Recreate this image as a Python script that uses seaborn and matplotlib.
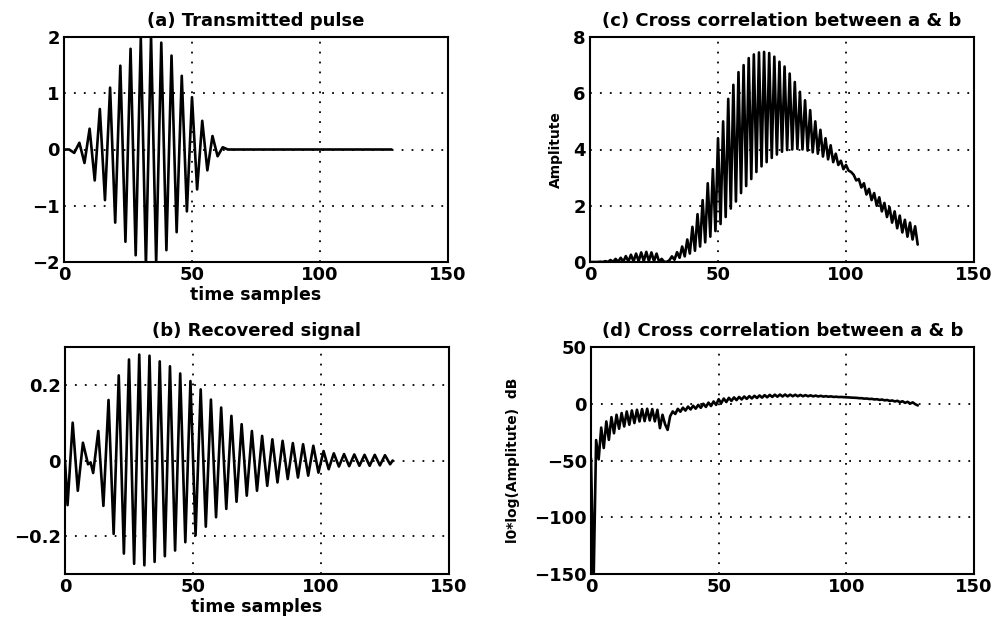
import numpy as np
import pandas as pd
import matplotlib
matplotlib.use("Agg")
import matplotlib.pyplot as plt
import seaborn as sns

# ---------------- data ----------------
# (a) transmitted pulse: turning points
a_x = [0, 2, 4, 6, 8, 10, 12, 14, 16, 18, 20, 22, 24, 26, 28, 30, 32, 34, 36, 38,
       40, 42, 44, 46, 48, 50, 52, 54, 56, 58, 60, 62, 64, 128]
a_y = [0, 0, -0.06, 0.12, -0.24, 0.37, -0.55, 0.72, -0.9, 1.1, -1.3, 1.49, -1.64, 1.79,
       -1.88, 1.98, -2.06, 2.02, -2.02, 1.9, -1.79, 1.67, -1.47, 1.31, -1.1, 0.93,
       -0.71, 0.51, -0.37, 0.24, -0.12, 0.04, 0, 0]

# (b) recovered signal: turning points
b_x = [0, 1, 3, 5, 7, 9, 10, 11, 13, 15, 17, 19, 21, 23, 25, 27, 29, 31, 33, 35, 37,
       39, 41, 43, 45, 47, 49, 51, 53, 55, 57, 59, 61, 63, 65, 67, 69, 71, 73, 75,
       77, 79, 81, 83, 85, 87, 89, 91, 93, 95, 97, 99, 101, 103, 105, 107, 109, 111,
       113, 115, 117, 119, 121, 123, 125, 127, 128]
b_y = [0, -0.118, 0.1, -0.08, 0.047, -0.01, -0.005, -0.033, 0.078, -0.12, 0.16,
       -0.194, 0.225, -0.246, 0.267, -0.273, 0.28, -0.277, 0.277, -0.268, 0.262,
       -0.253, 0.249, -0.238, 0.23, -0.216, 0.21, -0.198, 0.188, -0.175, 0.161,
       -0.15, 0.14, -0.128, 0.118, -0.109, 0.096, -0.093, 0.078, -0.08, 0.065,
       -0.067, 0.056, -0.058, 0.052, -0.049, 0.046, -0.045, 0.043, -0.04, 0.039,
       -0.032, 0.025, -0.023, 0.019, -0.016, 0.017, -0.015, 0.016, -0.014, 0.015,
       -0.014, 0.015, -0.013, 0.014, -0.01, 0.0]

# (c) cross correlation amplitude, samples 0..128
c_y = [0.0, 0.0, 0.0, 0.0, 0.01, 0.0, 0.03, 0.003, 0.07, 0.005,
       0.11, 0.008, 0.15, 0.01, 0.21, 0.015, 0.26, 0.02, 0.30, 0.025,
       0.34, 0.03, 0.36, 0.033, 0.34, 0.03, 0.30, 0.01, 0.11, 0.006,
       0.005, 0.06, 0.2, 0.08, 0.35, 0.15, 0.55, 0.2, 0.8, 0.3,
       1.25, 0.4, 1.7, 0.55, 2.2, 0.7, 2.8, 0.9, 3.3, 1.1,
       4.4, 1.35, 5.0, 1.6, 5.8, 1.9, 6.3, 2.15, 6.75, 2.45,
       7.0, 2.7, 7.25, 2.95, 7.38, 3.2, 7.45, 3.4, 7.47, 3.55,
       7.43, 3.7, 7.3, 3.82, 7.12, 3.92, 6.95, 3.98, 6.7, 4.0,
       6.4, 4.02, 6.05, 4.0, 5.75, 3.96, 5.4, 3.9, 5.0, 3.85,
       4.7, 3.75, 4.4, 3.65, 4.15, 3.55, 3.85, 3.45, 3.6, 3.3,
       3.45, 3.25, 3.2, 3.1, 2.9, 2.95, 2.65, 2.8, 2.4, 2.6,
       2.2, 2.45, 2.0, 2.3, 1.8, 2.1, 1.6, 1.95, 1.4, 1.8,
       1.2, 1.65, 1.05, 1.5, 0.9, 1.4, 0.8, 1.27, 0.62]

# (d) cross correlation in dB, samples 0..128
d_y = [-48, -160, -32, -49, -21, -39, -15.6, -31.8, -11.8, -26,
       -9.7, -22, -8.2, -20, -6.8, -18.5, -5.9, -17, -5.3, -15.6,
       -4.7, -15.3, -4.4, -14.7, -4.7, -15.5, -5.3, -21.5, -9.7, -18,
       -23, -11, -6.8, -9, -4.5, -7, -3.5, -6, -2.5, -5,
       -1.8, -4.3, -1, -3.6, 0, -2.8, 1, -2, 2, -1,
       4, 0.5, 4.6, 1.5, 5.2, 2.5, 5.6, 3.2, 6, 3.8,
       6.4, 4.3, 6.7, 4.7, 7, 5.1, 7.3, 5.4, 7.6, 5.7,
       7.8, 6, 8, 6.2, 8.1, 6.4, 8.1, 6.5, 8, 6.6,
       7.9, 6.6, 7.8, 6.6, 7.6, 6.6, 7.4, 6.5, 7.2, 6.4,
       7, 6.3, 6.7, 6.2, 6.5, 6.0, 6.2, 5.9, 6.0, 5.8,
       5.7, 5.6, 5.4, 5.3, 5.2, 4.9, 4.9, 4.5, 4.6, 4.2,
       4.3, 3.8, 4.0, 3.4, 3.7, 3.0, 3.3, 2.5, 2.9, 2.0,
       2.6, 1.4, 2.2, 0.8, 1.7, 0.2, 1.2, -0.4, -1.5]
cd_x = list(range(len(c_y)))

titles = ["(a) Transmitted pulse", "(b) Recovered signal",
          "(c) Cross correlation between a & b", "(d) Cross correlation between a & b"]
x_ticks = [0, 50, 100, 150]
a_ticks = [-2, -1, 0, 1, 2]
b_ticks = [-0.2, 0, 0.2]
c_ticks = [0, 2, 4, 6, 8]
d_ticks = [-150, -100, -50, 0, 50]

# ---------------- plot ----------------
sns.set_style("white")
plt.rcParams['font.family'] = ['DejaVu Sans']
plt.rcParams['font.weight'] = 'bold'
plt.rcParams['text.color'] = 'black'
plt.rcParams['axes.labelcolor'] = 'black'

fig = plt.figure(figsize=(10.02, 6.23), dpi=100)
W, H = 1002, 623

def add_ax(l, r, t, b):
    return fig.add_axes([l / W, 1 - b / H, (r - l) / W, (b - t) / H])

ax_a = add_ax(64, 448, 37, 262)
ax_b = add_ax(65, 449, 347, 574)
ax_c = add_ax(590, 974, 37, 262)
ax_d = add_ax(591, 974, 347, 574)

lw = 1.9
sns.lineplot(x=a_x, y=a_y, ax=ax_a, color='black', lw=lw, sort=False, estimator=None)
sns.lineplot(x=b_x, y=b_y, ax=ax_b, color='black', lw=lw, sort=False, estimator=None)
sns.lineplot(x=cd_x, y=c_y, ax=ax_c, color='black', lw=lw, sort=False, estimator=None)
sns.lineplot(x=cd_x, y=d_y, ax=ax_d, color='black', lw=lw, sort=False, estimator=None)

def fmt(t):
    return str(t) if t >= 0 else "\u2212" + str(-t)

setup = [
    (ax_a, titles[0], a_ticks, (-2, 2), [fmt(t) for t in a_ticks], "time samples", None, 4),
    (ax_b, titles[1], b_ticks, (-0.3, 0.3), ["\u22120.2", "0", "0.2"], "time samples", None, 4),
    (ax_c, titles[2], c_ticks, (0, 8), [fmt(t) for t in c_ticks], None, "Amplitute", 7.5),
    (ax_d, titles[3], d_ticks, (-150, 50), [fmt(t) for t in d_ticks], None, "l0*log(Amplitute)  dB", 10),
]
for ax, title, yt, ylim, ylabels, xlabel, ylabel, ypad in setup:
    ax.set_xlim(0, 150)
    ax.set_ylim(*ylim)
    ax.set_xticks(x_ticks)
    ax.set_xticklabels([str(t) for t in x_ticks])
    ax.set_yticks(yt)
    ax.set_yticklabels(ylabels)
    ax.tick_params(axis='both', labelsize=13, direction='in', length=3, width=1,
                   pad=3, colors='black')
    for lab in ax.get_xticklabels() + ax.get_yticklabels():
        lab.set_fontweight('bold')
    ax.grid(True, color='black', linestyle=(0, (1, 4.5)), linewidth=1.3)
    for s in ax.spines.values():
        s.set_visible(True)
        s.set_color('black')
        s.set_linewidth(1.5)
    ax.set_title(title, fontsize=13, fontweight='bold', pad=8, color='black')
    ax.set_xlabel(xlabel if xlabel else "", fontsize=12.5, fontweight='bold', labelpad=1,
                  color='black')
    ax.set_ylabel(ylabel if ylabel else "", fontsize=10, fontweight='bold', labelpad=ypad,
                  color='black')

fig.savefig("out.png", dpi=100)
